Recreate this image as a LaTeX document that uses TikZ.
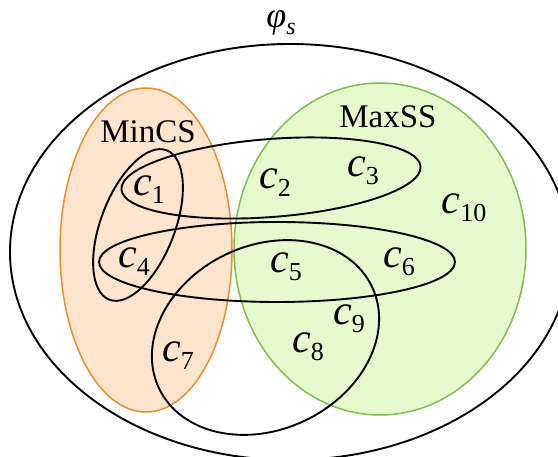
\documentclass[tikz,border=0pt]{standalone}
\usepackage{fontspec}
\setmainfont{Liberation Serif}
\definecolor{orfill}{RGB}{253,228,205}
\definecolor{ordraw}{RGB}{238,140,40}
\definecolor{grfill}{RGB}{229,251,206}
\definecolor{grdraw}{RGB}{128,188,78}
\newcommand\csub[1]{{\fontsize{42}{44}\selectfont\textit{c}}\raisebox{-0.24em}{\fontsize{26}{28}\selectfont #1}}
\tikzset{
  setline/.style={draw=black, line width=1.9pt},
  lbl/.style={inner sep=0pt, font=\fontsize{33}{36}\selectfont},
}
\begin{document}
\begin{tikzpicture}[x=1pt,y=1pt]
\useasboundingbox (0,0) rectangle (558,457);
% outer set
\draw[setline] (290,205) ellipse [x radius=280, y radius=208];
% MinCS and MaxSS
\draw[fill=orfill, draw=ordraw, line width=1.5pt] (146,207) ellipse [x radius=86, y radius=162];
\draw[fill=grfill, draw=grdraw, line width=1.5pt] (380,208) ellipse [x radius=146, y radius=166];
% constraint sets
\draw[setline, rotate around={4.4:(271,279)}] (271,279) ellipse [x radius=150, y radius=39];
\draw[setline] (277,195) ellipse [x radius=178, y radius=40];
\draw[setline, rotate around={-21:(138,232)}] (138,232) ellipse [x radius=37, y radius=80];
\draw[setline, rotate around={25.6:(265.5,119.5)}] (265.5,119.5) ellipse [x radius=118, y radius=92];
% labels
\node[lbl] (phi) at (281,434) {{\fontsize{36}{38}\selectfont\textit{φ}}\raisebox{-0.2em}{\fontsize{24}{26}\selectfont\textit{s}}};
\node[lbl] (mincs) at (148,325) {MinCS};
\node[lbl] (maxss) at (388,340) {MaxSS};
\node[lbl] (c1) at (149,267) {\csub{1}};
\node[lbl] (c2) at (275,274) {\csub{2}};
\node[lbl] (c3) at (363,286) {\csub{3}};
\node[lbl] (c10) at (464,249) {\csub{10}};
\node[lbl] (c4) at (134,195) {\csub{4}};
\node[lbl] (c5) at (286,190) {\csub{5}};
\node[lbl] (c6) at (399,195) {\csub{6}};
\node[lbl] (c9) at (349,138) {\csub{9}};
\node[lbl] (c8) at (308,110) {\csub{8}};
\node[lbl] (c7) at (178,101) {\csub{7}};
\end{tikzpicture}
\end{document}
